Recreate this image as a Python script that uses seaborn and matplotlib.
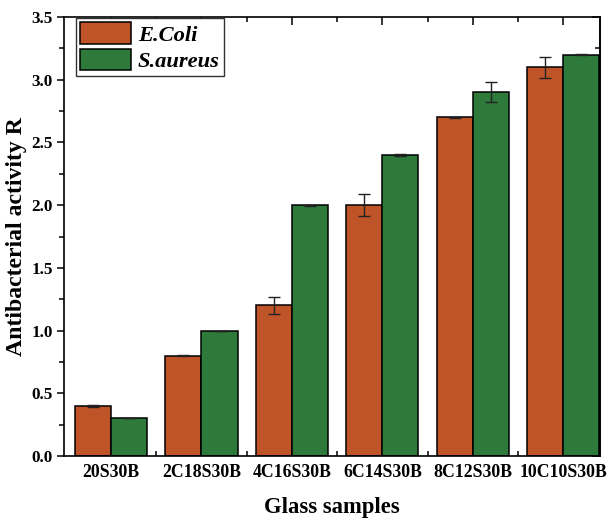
import matplotlib
matplotlib.use("Agg")
import matplotlib.pyplot as plt
import seaborn as sns
import pandas as pd
from matplotlib.ticker import MultipleLocator, FixedLocator

samples = ["20S30B", "2C18S30B", "4C16S30B", "6C14S30B", "8C12S30B", "10C10S30B"]
series = ["E.Coli", "S.aureus"]
ecoli = [0.40, 0.80, 1.20, 2.00, 2.70, 3.10]
ecoli_err = [0.008, 0.006, 0.07, 0.085, 0.004, 0.085]
saureus = [0.30, 1.00, 2.00, 2.40, 2.90, 3.20]
saureus_err = [0.0, 0.0, 0.004, 0.006, 0.08, 0.006]

colors = ["#BF5428", "#2E7A3A"]

sns.set_theme(style="white")
plt.rcParams["font.family"] = ["Liberation Serif", "DejaVu Serif"]
plt.rcParams["font.weight"] = "bold"
plt.rcParams["text.color"] = "black"
plt.rcParams["axes.labelcolor"] = "black"
plt.rcParams["xtick.color"] = "black"
plt.rcParams["ytick.color"] = "black"

df = pd.DataFrame({
    "sample": samples * 2,
    "R": ecoli + saureus,
    "bacteria": [series[0]] * len(samples) + [series[1]] * len(samples),
})
errs = [ecoli_err, saureus_err]

fig = plt.figure(figsize=(6.1, 5.23), dpi=100)
ax = fig.add_axes([0.105, 0.1281, 0.879, 0.8394])

sns.barplot(data=df, x="sample", y="R", hue="bacteria", palette=colors,
            edgecolor="black", linewidth=1.1, errorbar=None, width=0.8,
            saturation=1, ax=ax, zorder=2)

bar_containers = list(ax.containers)
for cont, err in zip(bar_containers, errs):
    xs = [b.get_x() + b.get_width() / 2 for b in cont]
    ys = [b.get_height() for b in cont]
    ax.errorbar(xs, ys, yerr=err, fmt="none", ecolor="#222222",
                elinewidth=1.0, capsize=4, capthick=1.0, zorder=3)

leg_handles = [cont.patches[0] for cont in bar_containers]
if ax.get_legend() is not None:
    ax.get_legend().remove()
leg = ax.legend(leg_handles, series, loc="upper left",
                bbox_to_anchor=(0.022, 0.998), borderaxespad=0,
                prop={"family": "Liberation Serif", "weight": "bold",
                      "style": "italic", "size": 16.2},
                handlelength=2.25, handleheight=1.1, labelspacing=0.12,
                handletextpad=0.3, borderpad=0.2, fancybox=False,
                frameon=True, edgecolor="#333333", framealpha=1)
leg.get_frame().set_linewidth(1.0)
for t in leg.get_texts():
    t.set_color("black")

ax.set_xlim(-0.52, 5.41)
ax.set_ylim(0, 3.5)
ax.yaxis.set_major_locator(MultipleLocator(0.5))
ax.yaxis.set_minor_locator(MultipleLocator(0.25))
ax.yaxis.set_major_formatter(matplotlib.ticker.FormatStrFormatter("%.1f"))
ax.xaxis.set_minor_locator(FixedLocator([i + 0.5 for i in range(len(samples) - 1)]))

for s in ax.spines.values():
    s.set_visible(True)
    s.set_color("black")
    s.set_linewidth(1.2)

ax.tick_params(axis="y", which="major", direction="out", left=True, right=False,
               length=5, width=1.1, color="black", pad=3, labelsize=12.3,
               labelcolor="black")
ax.tick_params(axis="y", which="minor", direction="out", left=True, right=False,
               length=3.5, width=1.1, color="black")
ax.tick_params(axis="x", which="major", direction="in", bottom=True, top=True,
               length=6, width=1.1, color="black", pad=6, labelsize=12.8,
               labelcolor="black")
ax.tick_params(axis="x", which="minor", direction="in", bottom=True, top=True,
               length=3.5, width=1.1, color="black")
for lab in ax.get_xticklabels() + ax.get_yticklabels():
    lab.set_fontweight("bold")

sec = ax.secondary_yaxis("right")
sec.yaxis.set_major_locator(MultipleLocator(0.5))
sec.yaxis.set_minor_locator(MultipleLocator(0.25))
sec.tick_params(axis="y", which="major", direction="in", length=6, width=1.1,
                color="black", labelright=False)
sec.tick_params(axis="y", which="minor", direction="in", length=3.5, width=1.1,
                color="black")
sec.spines["right"].set_linewidth(1.2)
sec.spines["right"].set_color("black")

ax.set_xlabel("Glass samples", fontsize=16.3, fontweight="bold", labelpad=11,
              color="black")
ax.set_ylabel("Antibacterial activity R", fontsize=17.1, fontweight="bold",
              labelpad=3, color="black")

fig.savefig("out.png", dpi=100)
